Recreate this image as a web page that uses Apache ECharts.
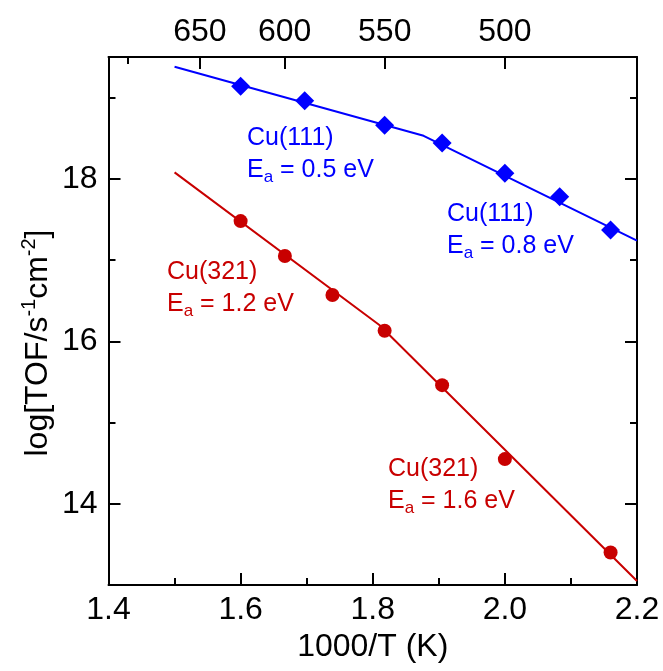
<!DOCTYPE html>
<html>
<head>
<meta charset="utf-8">
<script src="https://cdn.jsdelivr.net/npm/echarts@6/dist/echarts.min.js"></script>
<style>
  html, body { margin: 0; background: #fff; }
  #main { width: 663px; height: 671px; }
</style>
</head>
<body>
<div id="main"></div>
<script>
// 数据点 (1000/T, log TOF)
const cu111X = [1.6, 1.697, 1.818, 1.905, 2.0, 2.083, 2.16];
const cu111Y = [19.14, 18.96, 18.66, 18.44, 18.07, 17.78, 17.37];
const cu321X = [1.6, 1.667, 1.739, 1.818, 1.905, 2.0, 2.16];
const cu321Y = [17.48, 17.05, 16.57, 16.13, 15.46, 14.55, 13.40];

// 拟合直线（两段折线）
const fit111X = [1.5, 1.877, 2.2];
const fit111Y = [19.38, 18.53, 17.24];
const fit321X = [1.5, 1.81, 2.2];
const fit321Y = [18.08, 16.2, 13.05];

// 刻度
const xMajor = [1.4, 1.6, 1.8, 2.0, 2.2];
const xMinor = [1.5, 1.7, 1.9, 2.1];
const yMajor = [14, 16, 18];
const yMinor = [13, 15, 17, 19];
const topTemps = [650, 600, 550, 500];
const topMinorTemps = [700];

const BLUE = '#0000ff';
const RED = '#c80000';
const FONT = "'Liberation Sans', Arial, Helvetica, sans-serif";

const zip = (xs, ys) => xs.map((x, i) => [x, ys[i]]);
const inv = ts => ts.map(t => 1000 / t);

const GRID = { left: 108.5, right: 26, top: 57, bottom: 86 };
const lineSt = { color: '#000', width: 2 };

function xAx(grid, pos, ticks, len, withLine, labels, fmt) {
    return {
        type: 'value', gridIndex: grid, position: pos, min: 1.4, max: 2.2,
        axisLine: { show: withLine, onZero: false, lineStyle: lineSt },
        axisTick: { show: true, inside: true, length: len, customValues: ticks, lineStyle: lineSt },
        axisLabel: labels ? { show: true, customValues: labels, formatter: fmt, fontSize: 32, fontFamily: FONT, color: '#000', margin: 9 } : { show: false },
        splitLine: { show: false }
    };
}
function yAx(grid, pos, ticks, len, withLine, labels) {
    return {
        type: 'value', gridIndex: grid, position: pos, min: 13, max: 19.5,
        axisLine: { show: withLine, onZero: false, lineStyle: lineSt },
        axisTick: { show: true, inside: true, length: len, customValues: ticks, lineStyle: lineSt },
        axisLabel: labels ? { show: true, customValues: labels, formatter: v => String(Math.round(v)), fontSize: 32, fontFamily: FONT, color: '#000', margin: 11 } : { show: false },
        splitLine: { show: false }
    };
}

const bottomAxis = xAx(0, 'bottom', xMajor, 12, true, xMajor, v => v.toFixed(1));
bottomAxis.name = '1000/T (K)';
bottomAxis.nameLocation = 'middle';
bottomAxis.nameGap = 46;
bottomAxis.nameTextStyle = { fontSize: 32, fontFamily: FONT, color: '#000' };

// 标注文字
function note(x, y, color, title, ea) {
    return {
        type: 'text', x: x, y: y, silent: true,
        style: {
            text: '{n|' + title + '}\n{n|E}{s|a}{n| = ' + ea + ' eV}',
            fill: color, textAlign: 'left', textVerticalAlign: 'top',
            rich: {
                n: { fontSize: 25, fontFamily: FONT, lineHeight: 32, fill: color },
                s: { fontSize: 17, fontFamily: FONT, lineHeight: 4, verticalAlign: 'bottom', fill: color }
            }
        }
    };
}

const chart = echarts.init(document.getElementById('main'));
chart.setOption({
    animation: false,
    backgroundColor: '#fff',
    grid: [Object.assign({}, GRID), Object.assign({}, GRID)],
    xAxis: [
        bottomAxis,
        xAx(0, 'top', inv(topTemps), 12, true, inv(topTemps), v => String(Math.round(1000 / v))),
        xAx(1, 'bottom', xMinor, 7, false, null),
        xAx(1, 'top', inv(topMinorTemps), 7, false, null)
    ],
    yAxis: [
        yAx(0, 'left', yMajor, 12, true, yMajor),
        yAx(0, 'right', yMajor, 12, true, null),
        yAx(1, 'left', yMinor, 7, false, null),
        yAx(1, 'right', yMinor, 7, false, null)
    ],
    series: [
        { type: 'line', data: zip(fit111X, fit111Y), showSymbol: false, silent: true,
          lineStyle: { color: BLUE, width: 2 }, z: 2 },
        { type: 'scatter', data: zip(cu111X, cu111Y), symbol: 'diamond', symbolSize: 19,
          itemStyle: { color: BLUE, opacity: 1 }, z: 3 },
        { type: 'line', data: zip(fit321X, fit321Y), showSymbol: false, silent: true,
          lineStyle: { color: RED, width: 2 }, z: 2 },
        { type: 'scatter', data: zip(cu321X, cu321Y), symbol: 'circle', symbolSize: 14,
          itemStyle: { color: RED, opacity: 1 }, z: 3 }
    ],
    graphic: [
        {
            type: 'text', x: 38, y: 343, rotation: Math.PI / 2, silent: true,
            style: {
                text: '{n|log[TOF/s}{s|-1}{n|cm}{s|-2}{n|]}',
                fill: '#000', textAlign: 'center', textVerticalAlign: 'middle',
                rich: {
                    n: { fontSize: 32, fontFamily: FONT, lineHeight: 38, fill: '#000' },
                    s: { fontSize: 20, fontFamily: FONT, lineHeight: 14, verticalAlign: 'top', fill: '#000' }
                }
            }
        },
        note(247, 122, BLUE, 'Cu(111)', '0.5'),
        note(447, 198, BLUE, 'Cu(111)', '0.8'),
        note(167, 256, RED, 'Cu(321)', '1.2'),
        note(388, 453, RED, 'Cu(321)', '1.6')
    ]
});
</script>
</body>
</html>
